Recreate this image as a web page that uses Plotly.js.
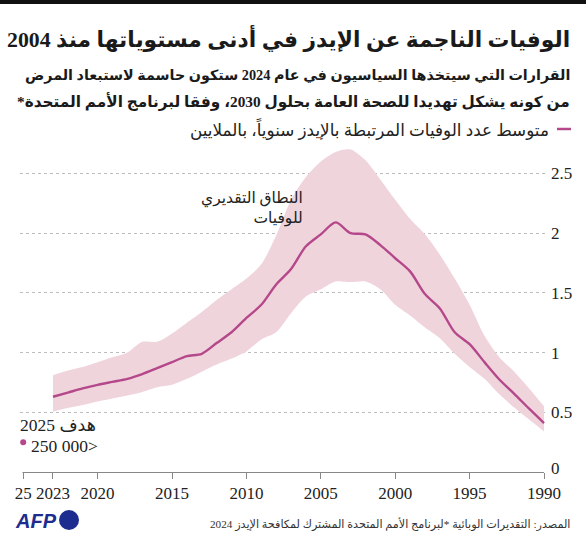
<!DOCTYPE html>
<html>
<head>
<meta charset="utf-8">
<script src="https://cdn.plot.ly/plotly-3.0.1.min.js"></script>
<style>html,body{margin:0;padding:0;background:#fff;}#chart{width:586px;height:540px;}</style>
</head>
<body>
<div id="chart"></div>
<script>
const years = [1990,1991,1992,1993,1994,1995,1996,1997,1998,1999,2000,2001,2002,2003,2004,2005,2006,2007,2008,2009,2010,2011,2012,2013,2014,2015,2016,2017,2018,2019,2020,2021,2022,2023];
const deaths = [0.41,0.53,0.655,0.775,0.92,1.07,1.17,1.37,1.49,1.68,1.79,1.90,1.99,2.00,2.09,1.99,1.89,1.70,1.57,1.40,1.29,1.17,1.08,0.99,0.97,0.92,0.87,0.82,0.78,0.755,0.73,0.70,0.665,0.63];
const upper = [0.55,0.70,0.84,0.96,1.14,1.40,1.62,1.82,1.99,2.12,2.28,2.45,2.61,2.70,2.68,2.60,2.47,2.28,1.98,1.74,1.62,1.53,1.44,1.34,1.25,1.16,1.09,1.09,1.00,0.96,0.92,0.88,0.85,0.81];
const lower = [0.34,0.44,0.54,0.65,0.78,0.88,0.99,1.12,1.21,1.31,1.40,1.53,1.595,1.59,1.595,1.53,1.47,1.33,1.17,1.11,1.01,0.95,0.90,0.84,0.78,0.73,0.71,0.67,0.64,0.615,0.59,0.56,0.535,0.505];
const targetYear = [2025];
const targetValue = [0.25];
const xTickVals = [2025,2023,2020,2015,2010,2005,2000,1995,1990];
const xTickText = ['25','2023','2020','2015','2010','2005','2000','1995','1990'];
const yTickVals = [0.5,1,1.5,2,2.5];
const yTickText = ['0.5','1','1.5','2','2.5'];
const zeroLabel = '0';

const titleText = 'الوفيات الناجمة عن الإيدز في أدنى مستوياتها منذ 2004';
const sub1 = 'القرارات التي سيتخذها السياسيون في عام 2024 ستكون حاسمة لاستبعاد المرض';
const sub2 = 'من كونه يشكل تهديدا للصحة العامة بحلول 2030، وفقا لبرنامج الأمم المتحدة*\u200F';
const legendText = 'متوسط عدد الوفيات المرتبطة بالإيدز سنوياً، بالملايين';
const bandLabel = 'النطاق التقديري<br>للوفيات';
const goalLabel = 'هدف 2025';
const goalValue = '\u200F<250\u00A0000';
const sourceText = 'المصدر: التقديرات الوبائية *لبرنامج الأمم المتحدة المشترك لمكافحة الإيدز 2024';

const LINE = '#b4488a';
const BAND = '#f0d4dc';
const SERIF = 'Liberation Serif, DejaVu Sans, serif';
const AR = 'Liberation Serif, DejaVu Sans, sans-serif';

// plot area in px: x 20..546, y 140..472
const L = 20, R = 546, T = 140, B = 472;
const px = v => (v - L) / (R - L);
const py = v => (B - v) / (B - T);

const traces = [
  {x: years, y: upper, type: 'scatter', mode: 'lines', line: {width: 0, shape: 'spline', smoothing: 0.8}, hoverinfo: 'skip', showlegend: false},
  {x: years, y: lower, type: 'scatter', mode: 'lines', fill: 'tonexty', fillcolor: BAND, line: {width: 0, shape: 'spline', smoothing: 0.8}, hoverinfo: 'skip', showlegend: false},
  {x: years, y: deaths, type: 'scatter', mode: 'lines', line: {color: LINE, width: 2.4, shape: 'spline', smoothing: 0.8}, showlegend: false},
  {x: targetYear, y: targetValue, type: 'scatter', mode: 'markers', marker: {color: LINE, size: 6}, showlegend: false, cliponaxis: false}
];

const layout = {
  width: 586, height: 540,
  margin: {l: L, r: 586 - R, t: T, b: 540 - B, pad: 0},
  paper_bgcolor: '#fff', plot_bgcolor: '#fff',
  showlegend: false,
  xaxis: {
    range: [2025.215, 1989.866], tickvals: xTickVals, ticktext: xTickText,
    showgrid: false, zeroline: false, showline: false,
    ticks: 'outside', ticklen: 6, tickwidth: 1, tickcolor: '#888',
    tickfont: {family: SERIF, size: 17, color: '#222'}, fixedrange: true
  },
  yaxis: {
    range: [0, 2.78], side: 'right', tickvals: yTickVals, ticktext: yTickText,
    showgrid: true, gridcolor: '#bdbdbd', griddash: 'dot', gridwidth: 1,
    zeroline: false, showline: false, ticks: '', ticklabelstandoff: 4,
    tickfont: {family: SERIF, size: 17, color: '#222'}, fixedrange: true
  },
  shapes: [
    {type: 'rect', xref: 'paper', yref: 'paper', x0: px(0), x1: px(586), y0: py(0), y1: py(4), fillcolor: '#111', line: {width: 0}},
    {type: 'line', xref: 'paper', yref: 'paper', x0: px(22.5), x1: px(544), y0: py(472.5), y1: py(472.5), line: {color: '#888', width: 1}},
    {type: 'line', xref: 'paper', yref: 'paper', x0: px(557), x1: px(571), y0: py(129), y1: py(129), line: {color: LINE, width: 2.5}},
    {type: 'circle', xref: 'paper', yref: 'paper', x0: px(59), x1: px(79), y0: py(510), y1: py(530), fillcolor: '#1d2d8f', line: {width: 0}}
  ],
  annotations: [
    {text: titleText, xref: 'paper', yref: 'paper', x: px(572), y: py(38), xanchor: 'right', yanchor: 'middle', showarrow: false, font: {family: AR, size: 21.8, color: '#1a1a1a', weight: 'bold'}},
    {text: sub1, xref: 'paper', yref: 'paper', x: px(572), y: py(75), xanchor: 'right', yanchor: 'middle', showarrow: false, font: {family: AR, size: 14.3, color: '#1a1a1a', weight: 'bold'}},
    {text: sub2, xref: 'paper', yref: 'paper', x: px(572), y: py(101), xanchor: 'right', yanchor: 'middle', showarrow: false, font: {family: AR, size: 15.3, color: '#1a1a1a', weight: 'bold'}},
    {text: legendText, xref: 'paper', yref: 'paper', x: px(551), y: py(129), xanchor: 'right', yanchor: 'middle', showarrow: false, font: {family: AR, size: 16.8, color: '#222'}},
    {text: bandLabel, xref: 'paper', yref: 'paper', x: px(305), y: py(208), xanchor: 'right', yanchor: 'middle', align: 'right', showarrow: false, font: {family: AR, size: 15.5, color: '#222'}},
    {text: goalLabel, xref: 'paper', yref: 'paper', x: px(18), y: py(425), xanchor: 'left', yanchor: 'middle', showarrow: false, font: {family: AR, size: 17.5, color: '#222'}},
    {text: goalValue, xref: 'paper', yref: 'paper', x: px(29), y: py(446), xanchor: 'left', yanchor: 'middle', showarrow: false, font: {family: SERIF, size: 17.5, color: '#222'}},
    {text: zeroLabel, xref: 'paper', yref: 'paper', x: px(549), y: py(468), xanchor: 'left', yanchor: 'middle', showarrow: false, font: {family: SERIF, size: 17, color: '#222'}},
    {text: '<i><b>AFP</b></i>', xref: 'paper', yref: 'paper', x: px(13), y: py(521), xanchor: 'left', yanchor: 'middle', showarrow: false, font: {family: 'Liberation Sans, Arial, sans-serif', size: 20, color: '#1d2d8f'}},
    {text: sourceText, xref: 'paper', yref: 'paper', x: px(572), y: py(524), xanchor: 'right', yanchor: 'middle', showarrow: false, font: {family: AR, size: 11.2, color: '#333'}}
  ]
};

Plotly.newPlot('chart', traces, layout, {displayModeBar: false, staticPlot: true});
</script>
</body>
</html>
